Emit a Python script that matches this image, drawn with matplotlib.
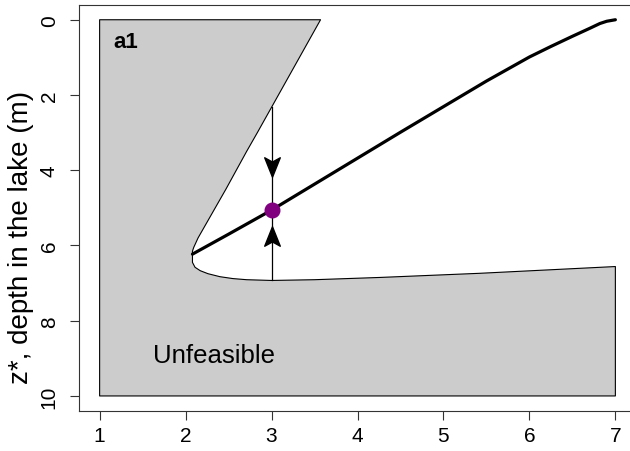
import matplotlib
matplotlib.use("Agg")
import matplotlib.pyplot as plt
from matplotlib.patches import Polygon
from matplotlib.path import Path
import numpy as np

plt.rcParams['font.family'] = ['Liberation Sans', 'DejaVu Sans']

# Feasibility boundary (upper branch, from surface down to the vertex)
upper_x = [3.57, 3.325, 3.08, 2.835, 2.71, 2.59, 2.47, 2.395, 2.32, 2.245,
           2.195, 2.145, 2.115, 2.095, 2.08, 2.08]
upper_z = [0.00, 1.00, 2.00, 3.00, 3.50, 4.00, 4.50, 4.80, 5.10, 5.40,
           5.60, 5.80, 5.95, 6.05, 6.15, 6.45]
# lower branch, from vertex to the right edge
lower_x = [2.11, 2.17, 2.26, 2.40, 2.55, 2.71, 3.00, 3.50, 4.26, 5.42, 7.00]
lower_z = [6.58, 6.67, 6.75, 6.83, 6.88, 6.91, 6.93, 6.91, 6.85, 6.74, 6.56]
# frame of unfeasible region
x_min, x_max = 1, 7
z_min, z_max = 0, 10

# Equilibrium curve
curve_x = [2.08, 2.50, 3.00, 3.50, 4.00, 4.50, 5.00, 5.50, 6.00, 6.25, 6.50,
           6.70, 6.82, 6.90, 7.00]
curve_z = [6.23, 5.70, 5.06, 4.37, 3.68, 2.99, 2.31, 1.63, 0.99, 0.71, 0.44,
           0.23, 0.10, 0.04, 0.00]

# Stable point and vertical trajectory
eq_x, eq_z = 3.0, 5.06
traj_x = 3.0
traj_top, traj_bot = 2.33, 6.93
arrow_down_tip, arrow_up_tip = 4.10, 5.57

xticks = [1, 2, 3, 4, 5, 6, 7]
yticks = [0, 2, 4, 6, 8, 10]

fig = plt.figure(figsize=(6.3, 4.52), dpi=100)
ax = fig.add_axes([79/630, 1-412/452, (636-79)/630, (412-5.7)/452])

poly_x = [x_min] + upper_x + lower_x + [x_max, x_min]
poly_z = [z_min] + upper_z + lower_z + [z_max, z_max]
ax.add_patch(Polygon(np.column_stack([poly_x, poly_z]), closed=True,
                     facecolor='#CCCCCC', edgecolor='black', linewidth=0.8,
                     joinstyle='round'))

ax.plot(curve_x, curve_z, color='black', linewidth=2.3, solid_capstyle='round',
        solid_joinstyle='round', zorder=3)
ax.plot([traj_x, traj_x], [traj_top, traj_bot], color='black', linewidth=0.9, zorder=3)

# stealth-shaped arrow heads (tip at origin, pointing down / up)
head_down = Path([(0, -0.5), (0.4, 0.5), (0, 0.28), (-0.4, 0.5), (0, -0.5)],
                 [Path.MOVETO, Path.LINETO, Path.LINETO, Path.LINETO, Path.CLOSEPOLY])
head_up = Path([(0, 0.5), (0.4, -0.5), (0, -0.28), (-0.4, -0.5), (0, 0.5)],
               [Path.MOVETO, Path.LINETO, Path.LINETO, Path.LINETO, Path.CLOSEPOLY])
hl = 0.19
ax.plot([traj_x], [arrow_down_tip - hl], marker=head_down, markersize=14,
        color='black', linestyle='none', zorder=4)
ax.plot([traj_x], [arrow_up_tip + hl], marker=head_up, markersize=14,
        color='black', linestyle='none', zorder=4)

ax.plot([eq_x], [eq_z], marker='o', markersize=10.5, color='#800080',
        linestyle='none', zorder=5)

ax.text(1.16, 0.58, 'a1', fontsize=16, fontweight='bold', ha='left', va='center')
ax.text(1.62, 8.9, 'Unfeasible', fontsize=18.5, ha='left', va='center')

ax.set_xlim(0.76, 7.24)
ax.set_ylim(10.4, -0.4)
ax.set_xticks(xticks)
ax.set_yticks(yticks)
ax.set_xticklabels([str(t) for t in xticks])
ax.set_yticklabels([str(t) for t in yticks], rotation=90, va='center')
ax.tick_params(axis='both', direction='out', length=6.5, width=0.8,
               labelsize=15, color='#333333')
ax.tick_params(axis='x', pad=4)
ax.tick_params(axis='y', pad=8)
for s in ax.spines.values():
    s.set_linewidth(0.8)
    s.set_color('#333333')

fig.text(21/630, 1-237/452, 'z*, depth in the lake (m)', fontsize=20,
         rotation=90, ha='center', va='center')

fig.savefig('out.png', dpi=100)
